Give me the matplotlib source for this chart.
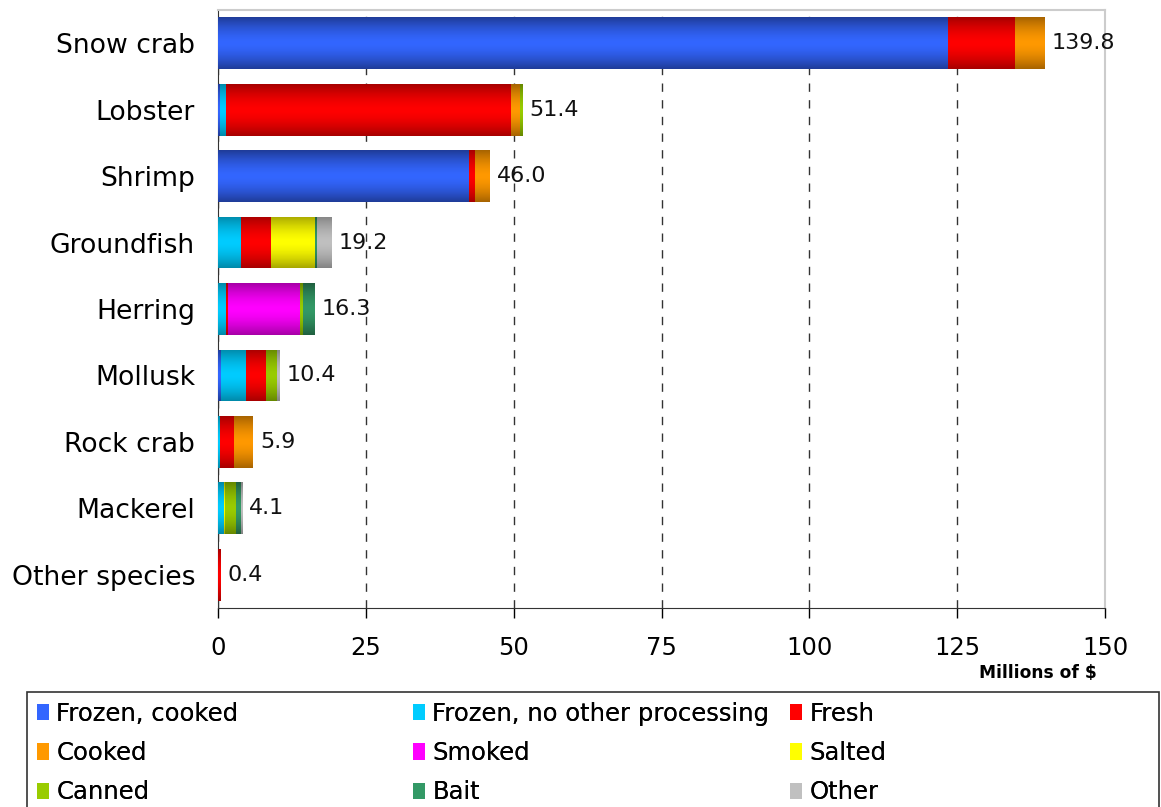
import numpy as np
import matplotlib
matplotlib.use("Agg")
import matplotlib.pyplot as plt
from matplotlib.colors import LinearSegmentedColormap, to_rgb
from matplotlib.patches import Patch, Rectangle

# Landed value by species and processing type, millions of dollars
species = ["Snow crab", "Lobster", "Shrimp", "Groundfish", "Herring",
           "Mollusk", "Rock crab", "Mackerel", "Other species"]
totals = [139.8, 51.4, 46.0, 19.2, 16.3, 10.4, 5.9, 4.1, 0.4]

series_names = ["Frozen, cooked", "Frozen, no other processing", "Fresh",
                "Cooked", "Smoked", "Salted", "Canned", "Bait", "Other"]

frozen_cooked = [123.4, 0.4, 42.5, 0.0, 0.0, 0.5, 0.0, 0.0, 0.0]
frozen_other = [0.0, 0.9, 0.0, 3.9, 1.3, 4.2, 0.4, 1.0, 0.0]
fresh = [11.4, 48.3, 1.0, 5.1, 0.4, 3.4, 2.3, 0.0, 0.4]
cooked = [5.0, 1.4, 2.5, 0.0, 0.0, 0.0, 3.2, 0.0, 0.0]
smoked = [0.0, 0.0, 0.0, 0.0, 12.2, 0.0, 0.0, 0.0, 0.0]
salted = [0.0, 0.0, 0.0, 7.4, 0.0, 0.0, 0.0, 0.2, 0.0]
canned = [0.0, 0.4, 0.0, 0.0, 0.5, 1.9, 0.0, 1.9, 0.0]
bait = [0.0, 0.0, 0.0, 0.3, 1.9, 0.0, 0.0, 0.8, 0.0]
other = [0.0, 0.0, 0.0, 2.5, 0.0, 0.4, 0.0, 0.2, 0.0]

series_values = [frozen_cooked, frozen_other, fresh, cooked, smoked,
                 salted, canned, bait, other]

# bright centre colour / dark edge colour for each series
bright = ["#3366ff", "#00ccff", "#ff0000", "#ff9900", "#ff00ff",
          "#ffff00", "#99cc00", "#339966", "#c0c0c0"]
dark = ["#1f3c99", "#008aaa", "#a80000", "#a86400", "#a800a8",
        "#a8a800", "#668800", "#206040", "#848484"]

xticks = [0, 25, 50, 75, 100, 125, 150]

plt.rcParams["font.family"] = "DejaVu Sans"

W, H = 1161, 807
fig = plt.figure(figsize=(W / 100, H / 100), dpi=100)
ax = fig.add_axes([218 / W, 1 - 608 / H, (1105 - 218) / W, (608 - 10) / H])

y = np.arange(len(species))
height = 0.78

# vertical shading profile: dark at the edges, bright in the middle
t = np.linspace(-1, 1, 64)
profile = 1 - np.abs(t) ** 1.6

left = np.zeros(len(species))
for name, vals, c1, c2 in zip(series_names, series_values, bright, dark):
    vals = np.array(vals)
    bars = ax.barh(y, vals, height=height, left=left, color=c1,
                   linewidth=0, zorder=2)
    cmap = LinearSegmentedColormap.from_list(name, [to_rgb(c2), to_rgb(c1)])
    for bar, v in zip(bars, vals):
        if v <= 0:
            continue
        x0, y0 = bar.get_x(), bar.get_y()
        img = ax.imshow(profile[:, None], cmap=cmap, aspect="auto",
                        extent=(x0, x0 + bar.get_width(), y0 + bar.get_height(), y0),
                        vmin=0, vmax=1, zorder=3, interpolation="bilinear")
        img.set_clip_path(bar)
    left += vals

for yi, total in zip(y, totals):
    ax.text(total + 1.2, yi, f"{total:.1f}", va="center", ha="left",
            fontsize=16, color="#111111", zorder=4)

ax.set_xlim(0, 150)
ax.set_ylim(len(species) - 0.5, -0.5)
ax.set_yticks(y)
ax.set_yticklabels(species, fontsize=19.2)
ax.set_xticks(xticks)
ax.set_xticklabels([str(v) for v in xticks], fontsize=17.5)
ax.tick_params(axis="y", length=0, pad=16.5)
ax.tick_params(axis="x", direction="out", length=7, width=1, pad=13)

ax.xaxis.grid(True, linestyle=(0, (6, 6)), color="#333333", linewidth=1)
ax.set_axisbelow(True)
for s in ["top", "right"]:
    ax.spines[s].set_color("#cccccc")
    ax.spines[s].set_linewidth(1.5)
ax.spines["left"].set_color("#333333")
ax.spines["bottom"].set_color("#333333")

fig.text(1097 / W, 1 - 673 / H, "Millions of $", ha="right", va="center",
         fontsize=12.3, fontweight="bold")

# legend: frame plus three columns of three entries, filled row by row
fig.add_artist(Rectangle((27 / W, -0.02), (1159 - 27) / W, 1.02 - 692 / H,
                         transform=fig.transFigure, facecolor="none",
                         edgecolor="#333333", linewidth=1.2))
col_x = [37, 413, 790]
for c, x in enumerate(col_x):
    idx = [c, c + 3, c + 6]
    handles = [Patch(facecolor=bright[i], edgecolor="none") for i in idx]
    leg = fig.legend(handles, [series_names[i] for i in idx], loc="center left",
                     bbox_to_anchor=(x / W, 1 - 753 / H), fontsize=17.5,
                     frameon=False, handlelength=0.5, handleheight=0.65,
                     handletextpad=0.3, labelspacing=0.63, borderpad=0,
                     borderaxespad=0)
    fig.add_artist(leg)

fig.savefig("out.png", dpi=100)
